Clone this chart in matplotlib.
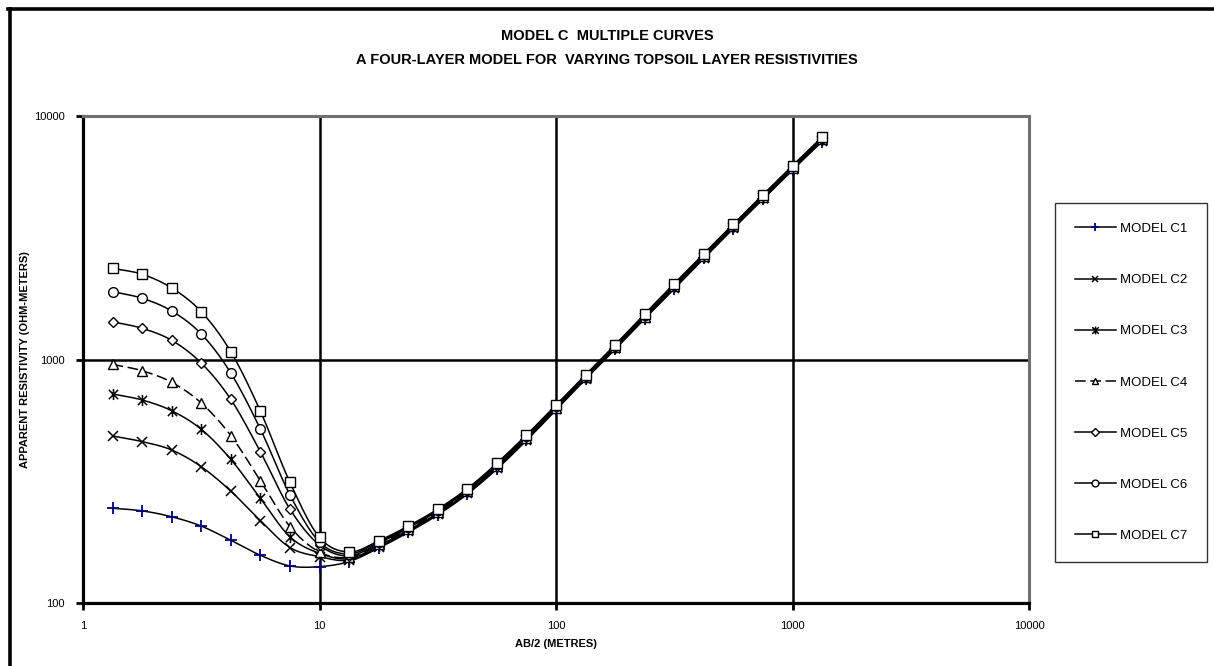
import numpy as np
import matplotlib.pyplot as plt
from matplotlib.path import Path
from matplotlib.lines import Line2D

plt.rcParams['font.family'] = ['Liberation Sans', 'DejaVu Sans']

# AB/2 spacing: eight stations per decade
ab2 = 10 ** (np.arange(1, 26) / 8)

c1 = [245, 239, 226, 207, 181, 157, 142, 141, 148, 168, 195, 230, 280, 355, 465,
      620, 830, 1100, 1470, 1950, 2600, 3450, 4550, 6000, 7850]
c2 = [485, 460, 425, 363, 288, 218, 169, 155, 150, 170, 197, 232, 283, 358, 468,
      625, 835, 1110, 1480, 1965, 2620, 3480, 4590, 6050, 7900]
c3 = [722, 682, 616, 517, 389, 269, 187, 160, 152, 172, 199, 234, 285, 361, 472,
      630, 840, 1115, 1490, 1980, 2640, 3500, 4620, 6090, 7960]
c4 = [955, 899, 806, 663, 487, 318, 206, 162, 154, 174, 201, 237, 288, 364, 476,
      635, 845, 1125, 1500, 1995, 2660, 3530, 4650, 6130, 8020]
c5 = [1429, 1343, 1199, 967, 686, 418, 243, 173, 156, 176, 203, 239, 290, 367, 480,
      640, 852, 1132, 1512, 2010, 2680, 3555, 4685, 6170, 8080]
c6 = [1900, 1784, 1582, 1273, 880, 518, 278, 178, 159, 178, 205, 241, 292, 371, 485,
      645, 858, 1140, 1525, 2030, 2700, 3580, 4720, 6210, 8140]
c7 = [2369, 2239, 1967, 1572, 1076, 614, 313, 186, 162, 180, 207, 243, 295, 375, 490,
      650, 865, 1150, 1540, 2050, 2720, 3600, 4750, 6250, 8200]

labels = ['MODEL C1', 'MODEL C2', 'MODEL C3', 'MODEL C4', 'MODEL C5', 'MODEL C6', 'MODEL C7']

# asterisk marker: an x with a vertical bar through it
star = Path([(-1, -1), (1, 1), (-1, 1), (1, -1), (0, -1.2), (0, 1.2)],
            [Path.MOVETO, Path.LINETO, Path.MOVETO, Path.LINETO, Path.MOVETO, Path.LINETO])

styles = [
    dict(marker='+', ms=9, mec='#000080', mew=1.3, ls='-'),
    dict(marker='x', ms=7, mec='black', mew=1.1, ls='-'),
    dict(marker=star, ms=8, mec='black', mew=1.1, ls='-'),
    dict(marker='^', ms=7, mec='black', mfc='white', mew=1.0, ls=(0, (7, 3))),
    dict(marker='D', ms=5.5, mec='black', mfc='white', mew=1.0, ls='-'),
    dict(marker='o', ms=7, mec='black', mfc='white', mew=1.0, ls='-'),
    dict(marker='s', ms=7, mec='black', mfc='white', mew=1.0, ls='-'),
]


def smooth(x, y, n=12):
    # Catmull-Rom through the points in log-log space
    lx, ly = np.log10(x), np.log10(np.asarray(y, float))
    px = np.concatenate([[2 * lx[0] - lx[1]], lx, [2 * lx[-1] - lx[-2]]])
    py = np.concatenate([[2 * ly[0] - ly[1]], ly, [2 * ly[-1] - ly[-2]]])
    t = np.linspace(0, 1, n, endpoint=False)
    ox, oy = [], []
    for i in range(1, len(px) - 2):
        for p, out in ((px, ox), (py, oy)):
            p0, p1, p2, p3 = p[i - 1], p[i], p[i + 1], p[i + 2]
            out.extend(0.5 * (2 * p1 + (-p0 + p2) * t + (2 * p0 - 5 * p1 + 4 * p2 - p3) * t ** 2
                              + (-p0 + 3 * p1 - 3 * p2 + p3) * t ** 3))
    ox.append(lx[-1])
    oy.append(ly[-1])
    return 10 ** np.array(ox), 10 ** np.array(oy)


fig = plt.figure(figsize=(12.14, 6.66), dpi=100)
ax = fig.add_axes([83 / 1214, 1 - 603 / 666, (1029 - 83) / 1214, (603 - 116) / 666])

handles = []
for yv, st, lab in zip([c1, c2, c3, c4, c5, c6, c7], styles, labels):
    sx, sy = smooth(ab2, yv)
    ax.plot(sx, sy, color='black', lw=1.1, ls=st['ls'], zorder=3)
    ax.plot(ab2, yv, ls='none', marker=st['marker'], ms=st['ms'], mec=st['mec'],
            mfc=st.get('mfc', 'none'), mew=st['mew'], zorder=4)
    handles.append(Line2D([], [], color='black', lw=1.1, ls=st['ls'], marker=st['marker'],
                          ms=st['ms'] * 0.7, mec=st['mec'], mfc=st.get('mfc', 'none'),
                          mew=st['mew'], label=lab))

ax.set_xscale('log')
ax.set_yscale('log')
ax.set_xlim(1, 10000)
ax.set_ylim(100, 10000)
ax.set_xticks([1, 10, 100, 1000, 10000])
ax.set_xticklabels(['1', '10', '100', '1000', '10000'])
ax.set_yticks([100, 1000, 10000])
ax.set_yticklabels(['100', '1000', '10000'])
ax.minorticks_off()
ax.tick_params(labelsize=8, length=5, width=2, direction='out', pad=8)
ax.grid(True, which='major', color='black', lw=1.8, zorder=1)

for side in ('left', 'bottom'):
    ax.spines[side].set_linewidth(2.3)
    ax.spines[side].set_color('black')
for side in ('top', 'right'):
    ax.spines[side].set_linewidth(2.2)
    ax.spines[side].set_color('#707070')

ax.set_xlabel('AB/2 (METRES)', fontsize=8, fontweight='bold', labelpad=6)
ax.set_ylabel('APPARENT RESISTIVITY (OHM-METERS)', fontsize=8, fontweight='bold')
ax.yaxis.set_label_coords((30 - 83) / 946, 0.5)

fig.text(607 / 1214, 1 - 36 / 666, 'MODEL C  MULTIPLE CURVES', ha='center', va='center',
         fontsize=10.5, fontweight='bold')
fig.text(607 / 1214, 1 - 60 / 666, 'A FOUR-LAYER MODEL FOR  VARYING TOPSOIL LAYER RESISTIVITIES',
         ha='center', va='center', fontsize=10.5, fontweight='bold')

leg = fig.legend(handles=handles, loc='upper left', bbox_to_anchor=(1055 / 1214, 1 - 203 / 666),
                 fontsize=9.5, frameon=True, fancybox=False, labelspacing=2.95,
                 handlelength=3.1, handletextpad=0.3, borderpad=1.5, borderaxespad=0)
leg.get_frame().set_edgecolor('black')
leg.get_frame().set_linewidth(1.0)

# outer frame, left and top edges
fig.add_artist(Line2D([9.5 / 1214, 9.5 / 1214], [0, 1 - 9 / 666], color='black', lw=2.6,
                      transform=fig.transFigure))
fig.add_artist(Line2D([8 / 1214, 1], [1 - 9 / 666, 1 - 9 / 666], color='black', lw=2.6,
                      transform=fig.transFigure))

fig.savefig('out.png', dpi=100)
